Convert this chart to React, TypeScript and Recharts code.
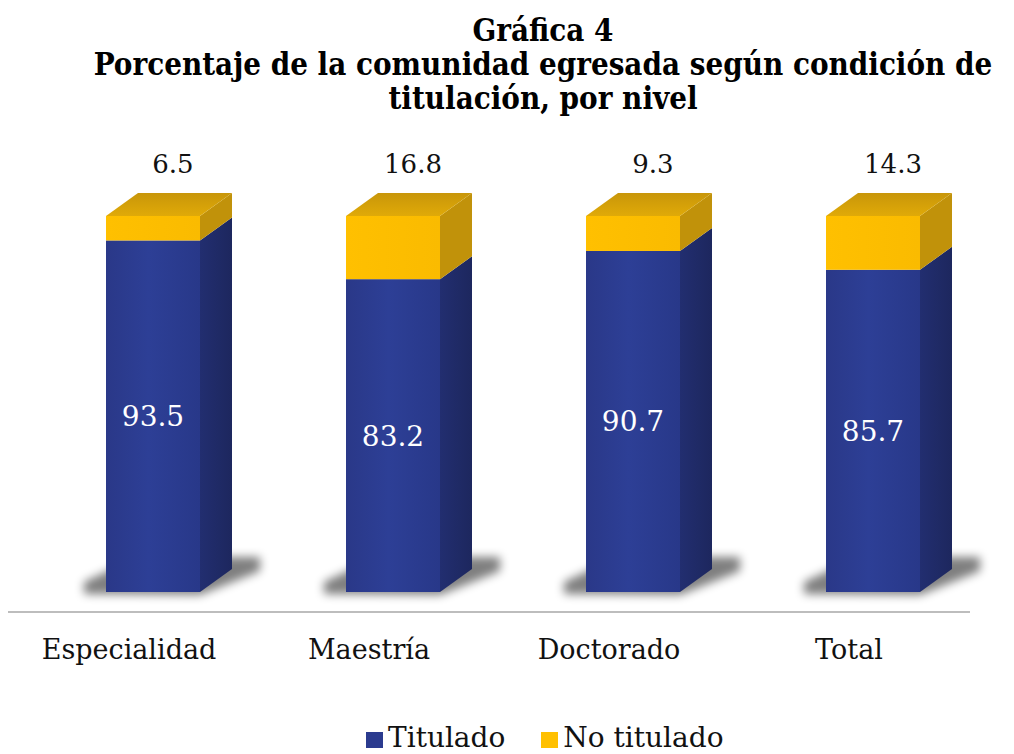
import { BarChart, Bar, XAxis, YAxis, Legend, LabelList } from 'recharts';

const categories = ['Especialidad', 'Maestría', 'Doctorado', 'Total'];
const titulado = [93.5, 83.2, 90.7, 85.7];
const noTitulado = [6.5, 16.8, 9.3, 14.3];
const seriesOrder = ['Titulado', 'No titulado'];

const data = categories.map((nivel, i) => ({
  nivel,
  titulado: titulado[i],
  noTitulado: noTitulado[i],
}));

const SERIF = '"DejaVu Serif", serif';
const DX = 32;
const DY = 23;

const COLORS = {
  blue: '#2B3B8F',
  gold: '#FFC000',
};

// front + side of the blue block, with the floor shadow behind it
function BlueBlock(props: any) {
  const { x, y, width: w, height: h } = props;
  const b = y + h;
  return (
    <g>
      <polygon
        points={`${x - 22},${b + 2} ${x + w},${b + 3} ${x + w + DX + 28},${b - DY + 2} ${x + w + DX + 28},${b - DY - 12} ${x + DX},${b - DY - 12} ${x - 22},${b - 10}`}
        fill="#000"
        opacity={0.5}
        filter="url(#floorBlur)"
      />
      <rect x={x} y={y} width={w} height={h} fill="url(#blueFront)" />
      <polygon
        points={`${x + w},${y} ${x + w + DX},${y - DY} ${x + w + DX},${b - DY} ${x + w},${b}`}
        fill="url(#blueSide)"
      />
    </g>
  );
}

// front, side and lid of the gold block
function GoldBlock(props: any) {
  const { x, y, width: w, height: h } = props;
  const b = y + h;
  return (
    <g>
      <rect x={x} y={y} width={w} height={h} fill="url(#goldFront)" />
      <polygon
        points={`${x + w},${y} ${x + w + DX},${y - DY} ${x + w + DX},${b - DY} ${x + w},${b}`}
        fill="#C1920A"
      />
      <polygon
        points={`${x},${y} ${x + DX},${y - DY} ${x + w + DX},${y - DY} ${x + w},${y}`}
        fill="url(#goldTop)"
      />
    </g>
  );
}

function TopLabel(props: any) {
  const { x, y, width, value } = props;
  return (
    <text
      x={x + width / 2 + 20}
      y={y - 52}
      textAnchor="middle"
      dominantBaseline="central"
      fontSize={26}
      fontFamily={SERIF}
      fill="#111"
    >
      {value}
    </text>
  );
}

function NivelTick(props: any) {
  const { x, y, payload } = props;
  return (
    <text x={x - 24} y={y} dy={67} textAnchor="middle" fontSize={27} fontFamily={SERIF} fill="#111">
      {payload.value}
    </text>
  );
}

function LegendBox(props: any) {
  const items = [...(props.payload || [])].sort(
    (a: any, b: any) => seriesOrder.indexOf(a.value) - seriesOrder.indexOf(b.value)
  );
  return (
    <div style={{ display: 'flex', alignItems: 'center', height: 28 }}>
      {items.map((item: any, i: number) => (
        <div key={i} style={{ display: 'flex', alignItems: 'center', marginRight: 36 }}>
          <span style={{ width: 17, height: 16, background: item.color, marginRight: 5, marginTop: 4 }} />
          <span style={{ fontFamily: SERIF, fontSize: 28, lineHeight: '28px', color: '#111' }}>
            {item.value}
          </span>
        </div>
      ))}
    </div>
  );
}

export default function App() {
  return (
    <div
      style={{
        position: 'absolute',
        left: 0,
        top: 0,
        width: 1014,
        height: 754,
        overflow: 'hidden',
        background: '#fff',
      }}
    >
      <svg width={0} height={0} style={{ position: 'absolute' }}>
        <defs>
          <linearGradient id="blueFront" x1="0" y1="0" x2="1" y2="0">
            <stop offset="0%" stopColor="#2A3888" />
            <stop offset="45%" stopColor="#2D3F96" />
            <stop offset="100%" stopColor="#283889" />
          </linearGradient>
          <linearGradient id="blueSide" x1="0" y1="0" x2="1" y2="0">
            <stop offset="0%" stopColor="#222E70" />
            <stop offset="100%" stopColor="#1D275E" />
          </linearGradient>
          <linearGradient id="goldFront" x1="0" y1="0" x2="1" y2="0">
            <stop offset="0%" stopColor="#FFC000" />
            <stop offset="100%" stopColor="#FABB00" />
          </linearGradient>
          <linearGradient id="goldTop" x1="0" y1="1" x2="0" y2="0">
            <stop offset="0%" stopColor="#E0AA08" />
            <stop offset="100%" stopColor="#C8960A" />
          </linearGradient>
          <filter id="floorBlur" x="-50%" y="-50%" width="200%" height="200%">
            <feGaussianBlur stdDeviation="5" />
          </filter>
        </defs>
      </svg>

      <div
        style={{
          position: 'absolute',
          left: 543,
          top: 13,
          transform: 'translateX(-50%)',
          whiteSpace: 'nowrap',
          textAlign: 'center',
          fontFamily: '"DejaVu Serif Condensed", "DejaVu Serif", serif',
          fontWeight: 'bold',
          fontSize: 31,
          lineHeight: '34px',
          color: '#000',
        }}
      >
        <div>Gráfica 4</div>
        <div>Porcentaje de la comunidad egresada según condición de</div>
        <div>titulación, por nivel</div>
      </div>

      <BarChart
        width={1014}
        height={754}
        data={data}
        margin={{ top: 216, right: 21, bottom: 122, left: 33 }}
      >
        <XAxis
          dataKey="nivel"
          axisLine={false}
          tickLine={false}
          tickSize={0}
          tickMargin={0}
          height={40}
          interval={0}
          tick={<NivelTick />}
        />
        <YAxis hide domain={[0, 100]} />
        <Legend
          layout="horizontal"
          align="center"
          verticalAlign="middle"
          wrapperStyle={{ top: 724, left: 366, width: 'auto' }}
          content={<LegendBox />}
        />
        <Bar
          dataKey="titulado"
          name="Titulado"
          stackId="a"
          barSize={94}
          fill={COLORS.blue}
          shape={<BlueBlock />}
          isAnimationActive={false}
        >
          <LabelList
            dataKey="titulado"
            position="center"
            fill="#fff"
            fontSize={28}
            fontFamily={SERIF}
          />
        </Bar>
        <Bar
          dataKey="noTitulado"
          name="No titulado"
          stackId="a"
          barSize={94}
          fill={COLORS.gold}
          shape={<GoldBlock />}
          isAnimationActive={false}
        >
          <LabelList dataKey="noTitulado" content={<TopLabel />} />
        </Bar>
      </BarChart>

      <div
        style={{
          position: 'absolute',
          left: 8,
          top: 611,
          width: 962,
          height: 2,
          background: '#BDBDBD',
        }}
      />
    </div>
  );
}
